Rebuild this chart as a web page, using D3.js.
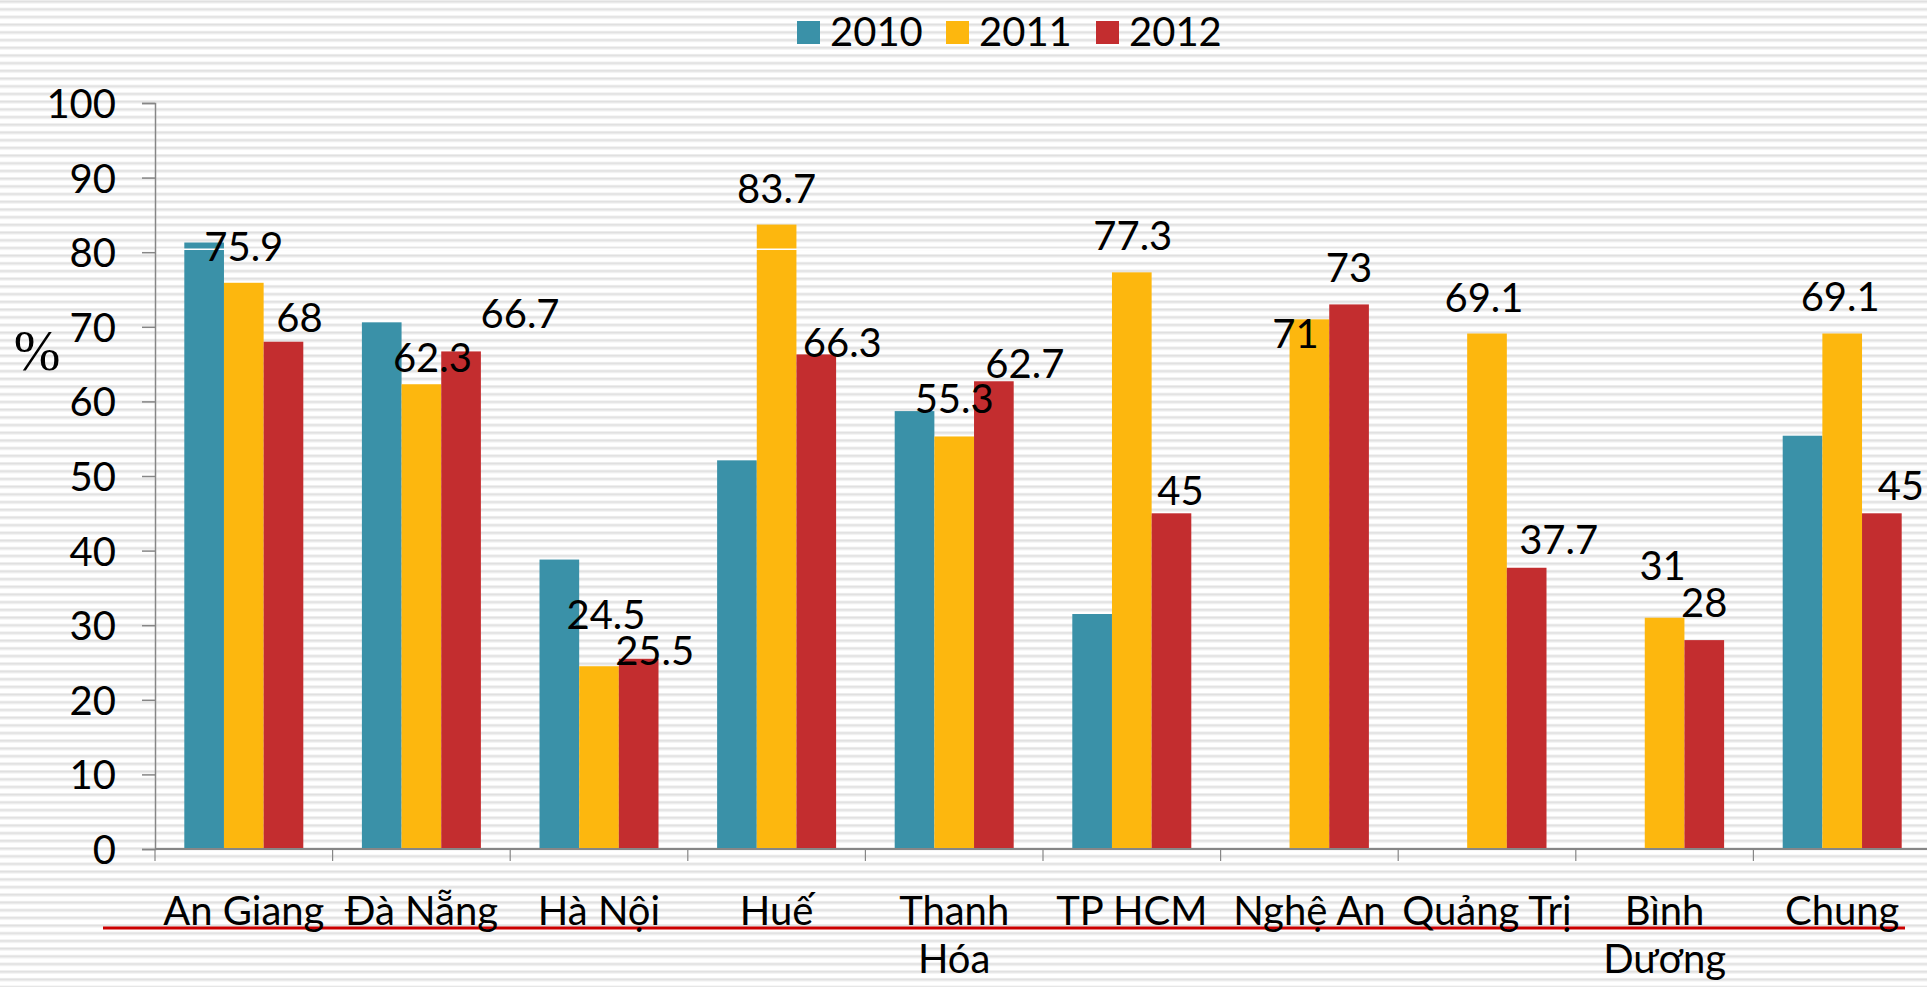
<!DOCTYPE html>
<html>
<head>
<meta charset="utf-8">
<script src="https://cdn.jsdelivr.net/npm/d3@7"></script>
<style>
  html, body { margin: 0; padding: 0; background: #fff; }
  svg { display: block; }
  text { font-family: Lato, "Open Sans", sans-serif; fill: #000; }
</style>
</head>
<body>
<div id="chart"></div>
<script>
// data
const categories = ["An Giang", "Đà Nẵng", "Hà Nội", "Huế", "Thanh Hóa", "TP HCM", "Nghệ An", "Quảng Trị", "Bình Dương", "Chung"]
const years = ["2010", "2011", "2012"]
const v2010 = [81.3, 70.6, 38.8, 52.1, 58.7, 31.5, null, null, null, 55.4]
const v2011 = [75.9, 62.3, 24.5, 83.7, 55.3, 77.3, 71, 69.1, 31, 69.1]
const v2012 = [68, 66.7, 25.5, 66.3, 62.7, 45, 73, 37.7, 28, 45]
const yTicks = [0, 10, 20, 30, 40, 50, 60, 70, 80, 90, 100]

// labels were dragged around by hand on the slide, nudges in px [dx, dy]
const nudge2011 = [[0, 0], [11, 10], [7, -15], [0, 0], [0, -1], [1, 0], [-14, 51], [-3, 0], [-2, -16], [-2, -1]]
const nudge2012 = [[16, 12], [59, -1], [16, 28], [26, 25], [31, 19], [9, 14], [0, 0], [32, 8], [0, -1], [19, 9]]

const colors = { "2010": "#3a91a8", "2011": "#fdb70e", "2012": "#c32d2f" }
const series = { "2010": v2010, "2011": v2011, "2012": v2012 }
const nudges = { "2011": nudge2011, "2012": nudge2012 }
const lineBreaks = { "Thanh Hóa": ["Thanh", "Hóa"], "Bình Dương": ["Bình", "Dương"] }

const W = 1927, H = 987
var svg = d3.select("#chart").append("svg")
  .attr("width", W)
  .attr("height", H)

// striped slide background
const defs = svg.append("defs")
const pat = defs.append("pattern")
  .attr("id", "stripes")
  .attr("patternUnits", "userSpaceOnUse")
  .attr("width", 20)
  .attr("height", 7.7)
pat.append("rect").attr("width", 20).attr("height", 7.7).attr("fill", "#ffffff")
pat.append("rect").attr("y", 0).attr("width", 20).attr("height", 1).attr("fill", "#ececec")
pat.append("rect").attr("y", 1).attr("width", 20).attr("height", 1.6).attr("fill", "#dedede")
pat.append("rect").attr("y", 2.6).attr("width", 20).attr("height", 0.8).attr("fill", "#eeeeee")
svg.append("rect").attr("width", W).attr("height", H).attr("fill", "url(#stripes)")

// scales
const x0 = d3.scaleBand()
  .domain(categories)
  .range([155, 155 + 177.6 * 10])
  .paddingInner(0.33)
  .paddingOuter(0.165)
const x1 = d3.scaleBand()
  .domain(years)
  .range([0, x0.bandwidth()])
const y = d3.scaleLinear()
  .domain([0, 100])
  .range([849, 103])

// bars
const bars = svg.append("g")
years.forEach(function(yr) {
  bars.selectAll(".bar" + yr)
    .data(categories.map((c, i) => ({ cat: c, v: series[yr][i] })).filter(d => d.v != null))
    .enter()
    .append("rect")
      .attr("x", d => x0(d.cat) + x1(yr))
      .attr("y", d => y(d.v))
      .attr("width", x1.bandwidth())
      .attr("height", d => y(0) - y(d.v))
      .attr("fill", colors[yr])
})

// thin white line at 80 that shows through the tallest bars
svg.append("line")
  .attr("x1", 155).attr("x2", W)
  .attr("y1", y(80) - 3).attr("y2", y(80) - 3)
  .attr("stroke", "#ffffff")
  .attr("stroke-width", 1.5)

// Y axis
const yAxis = svg.append("g")
  .attr("transform", "translate(155,0)")
  .call(d3.axisLeft(y).tickValues(yTicks).tickSize(13).tickPadding(26))
yAxis.select(".domain").attr("stroke", "#868686").attr("stroke-width", 1.5)
yAxis.selectAll(".tick line").attr("stroke", "#868686").attr("stroke-width", 1.5)
yAxis.selectAll(".tick text")
  .attr("font-size", 40)
  .attr("font-family", "Lato, sans-serif")
  .attr("fill", "#000")
  .attr("dy", "0.36em")

// X axis line + ticks between categories
svg.append("line")
  .attr("x1", 155).attr("x2", W)
  .attr("y1", y(0)).attr("y2", y(0))
  .attr("stroke", "#868686").attr("stroke-width", 1.8)
svg.selectAll(".xtick")
  .data(d3.range(categories.length + 1))
  .enter()
  .append("line")
    .attr("x1", i => 155 + x0.step() * i)
    .attr("x2", i => 155 + x0.step() * i)
    .attr("y1", y(0))
    .attr("y2", y(0) + 12)
    .attr("stroke", "#868686")
    .attr("stroke-width", 1.2)

// red rule under category names
svg.append("line")
  .attr("x1", 103).attr("x2", 1905)
  .attr("y1", 928).attr("y2", 928)
  .attr("stroke", "#cc0000")
  .attr("stroke-width", 3)

// category labels
svg.selectAll(".catlabel")
  .data(categories)
  .enter()
  .append("text")
    .attr("text-anchor", "middle")
    .attr("font-size", 40)
    .attr("x", d => x0(d) + x0.bandwidth() / 2)
    .attr("y", 925)
    .each(function(d) {
      const lines = lineBreaks[d] || [d]
      d3.select(this).selectAll("tspan")
        .data(lines)
        .enter()
        .append("tspan")
          .attr("x", x0(d) + x0.bandwidth() / 2)
          .attr("dy", (l, i) => i === 0 ? 0 : 48)
          .text(l => l)
    })

// value labels (only 2011 and 2012 are labelled)
;["2011", "2012"].forEach(function(yr) {
  svg.selectAll(".lab" + yr)
    .data(categories.map((c, i) => ({ cat: c, v: series[yr][i], n: nudges[yr][i] })))
    .enter()
    .append("text")
      .attr("text-anchor", "middle")
      .attr("font-size", 40)
      .attr("x", d => x0(d.cat) + x1(yr) + x1.bandwidth() / 2 + d.n[0])
      .attr("y", d => y(d.v) - 22 + d.n[1])
      .text(d => d.v)
})

// "%" unit
svg.append("text")
  .attr("x", 37)
  .attr("y", 370)
  .attr("text-anchor", "middle")
  .style("font-family", "'Liberation Serif', 'DejaVu Serif', serif")
  .attr("font-size", 56)
  .text("%")

// LEGEND //
const legendX = [797, 946, 1096]
const legend = svg.selectAll(".legend")
  .data(years)
  .enter()
  .append("g")
    .attr("transform", (d, i) => "translate(" + legendX[i] + ",0)")
legend.append("rect")
  .attr("y", 21)
  .attr("width", 23)
  .attr("height", 23)
  .attr("fill", d => colors[d])
legend.append("text")
  .attr("x", 33)
  .attr("y", 46)
  .attr("font-size", 40)
  .text(d => d)
</script>
</body>
</html>
